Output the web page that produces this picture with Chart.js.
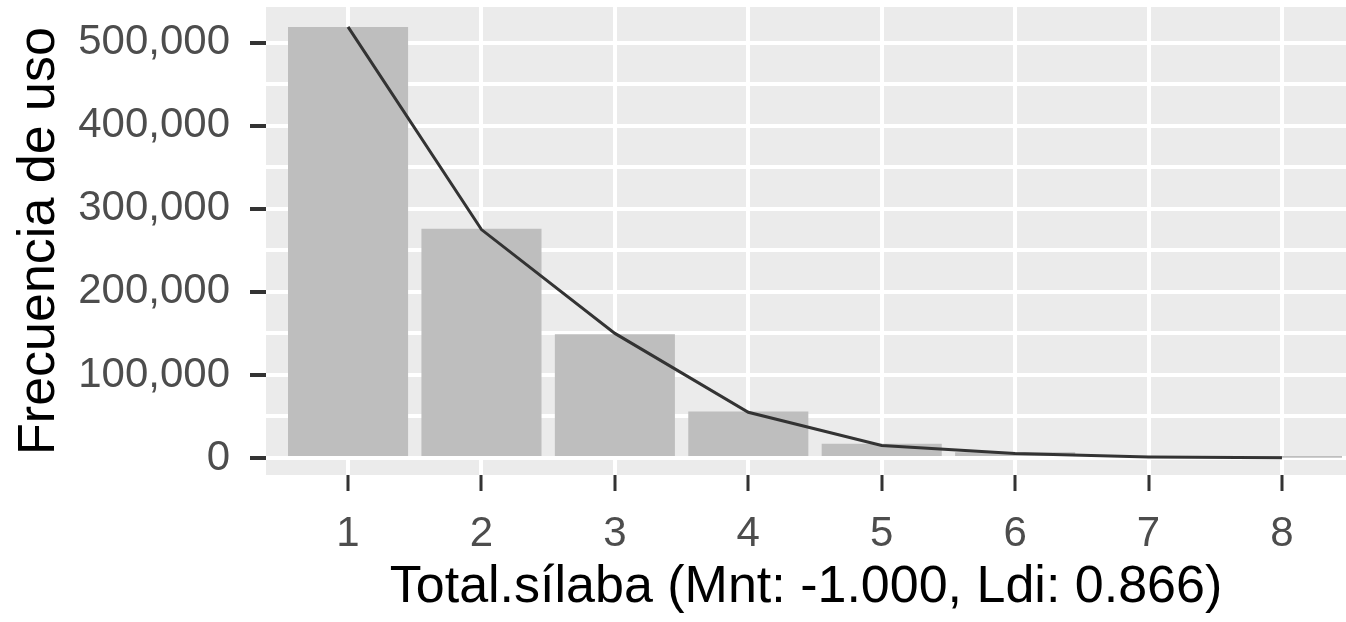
<!DOCTYPE html>
<html>
<head>
<meta charset="utf-8">
<script src="https://cdn.jsdelivr.net/npm/chart.js@4"></script>
<style>
  html, body { margin: 0; padding: 0; background: #FFFFFF; overflow: hidden; }
  #wrap { width: 1346px; height: 622px; }
</style>
</head>
<body>
<div id="wrap"><canvas id="silabaChart" width="1346" height="622"></canvas></div>
<script>
// Datos
const silabas = [1, 2, 3, 4, 5, 6, 7, 8];
const frecuencias = [519000, 276000, 149000, 56000, 17000, 7000, 1500, 300];
const ajuste = [519000, 275000, 150000, 55000, 15000, 5500, 1200, 300];
const yTicks = [0, 50000, 100000, 150000, 200000, 250000, 300000, 350000, 400000, 450000, 500000];

const xTitle = 'Total.sílaba (Mnt: -1.000, Ldi: 0.866)';
const yTitle = 'Frecuencia de uso';

const FONT = '"Liberation Sans", Arial, sans-serif';
const esMayor = v => v % 100000 === 0;

// Fondo gris del panel (estilo ggplot)
const panelBg = {
    id: 'panelBg',
    beforeDraw(chart) {
        const { ctx, chartArea: a } = chart;
        ctx.save();
        ctx.fillStyle = '#EBEBEB';
        ctx.fillRect(a.left, a.top, a.right - a.left, a.bottom - a.top);
        ctx.restore();
    }
};

new Chart(document.getElementById('silabaChart'), {
    data: {
        datasets: [
            {
                type: 'line',
                data: silabas.map((x, i) => ({ x: x, y: ajuste[i] })),
                borderColor: '#333333',
                borderWidth: 3,
                pointRadius: 0,
                tension: 0,
                fill: false,
                order: 0
            },
            {
                type: 'bar',
                data: silabas.map((x, i) => ({ x: x, y: frecuencias[i] })),
                backgroundColor: '#BEBEBE',
                borderWidth: 0,
                barPercentage: 0.9,
                categoryPercentage: 1,
                order: 1
            }
        ]
    },
    options: {
        responsive: false,
        animation: false,
        layout: { padding: { top: 7, right: 0, bottom: 0, left: 0 } },
        plugins: { legend: { display: false }, tooltip: { enabled: false } },
        scales: {
            x: {
                type: 'linear',
                offset: false,
                min: 0.385,
                max: 8.48,
                afterBuildTicks: s => { s.ticks = silabas.map(v => ({ value: v })); },
                afterFit: s => { s.height = 147; s.paddingLeft = 0; s.paddingRight = 0; },
                border: { display: false },
                grid: { offset: false, color: '#FFFFFF', lineWidth: 4, tickColor: '#333333', tickLength: 16, tickWidth: 3 },
                ticks: {
                    color: '#4D4D4D',
                    font: { family: FONT, size: 42 },
                    padding: 18,
                    autoSkip: false,
                    maxRotation: 0,
                    callback: v => String(v)
                },
                title: {
                    display: true,
                    text: xTitle,
                    color: '#000000',
                    font: { family: FONT, size: 52 },
                    padding: { top: 0, bottom: 3 }
                }
            },
            y: {
                type: 'linear',
                min: -20500,
                max: 543000,
                afterBuildTicks: s => { s.ticks = yTicks.map(v => ({ value: v })); },
                afterFit: s => { s.width = 266; s.paddingTop = 0; s.paddingBottom = 0; },
                border: { display: false },
                grid: {
                    color: '#FFFFFF',
                    lineWidth: 4,
                    tickColor: c => (c.tick && esMayor(c.tick.value)) ? '#333333' : 'rgba(0,0,0,0)',
                    tickLength: 16,
                    tickWidth: 4
                },
                ticks: {
                    color: '#4D4D4D',
                    font: { family: FONT, size: 42 },
                    padding: 20,
                    autoSkip: false,
                    callback: v => esMayor(v) ? v.toLocaleString('en-US') : ''
                },
                title: {
                    display: true,
                    text: yTitle,
                    color: '#000000',
                    font: { family: FONT, size: 52 },
                    padding: { top: 8, bottom: 0 }
                }
            }
        }
    },
    plugins: [panelBg]
});
</script>
</body>
</html>
